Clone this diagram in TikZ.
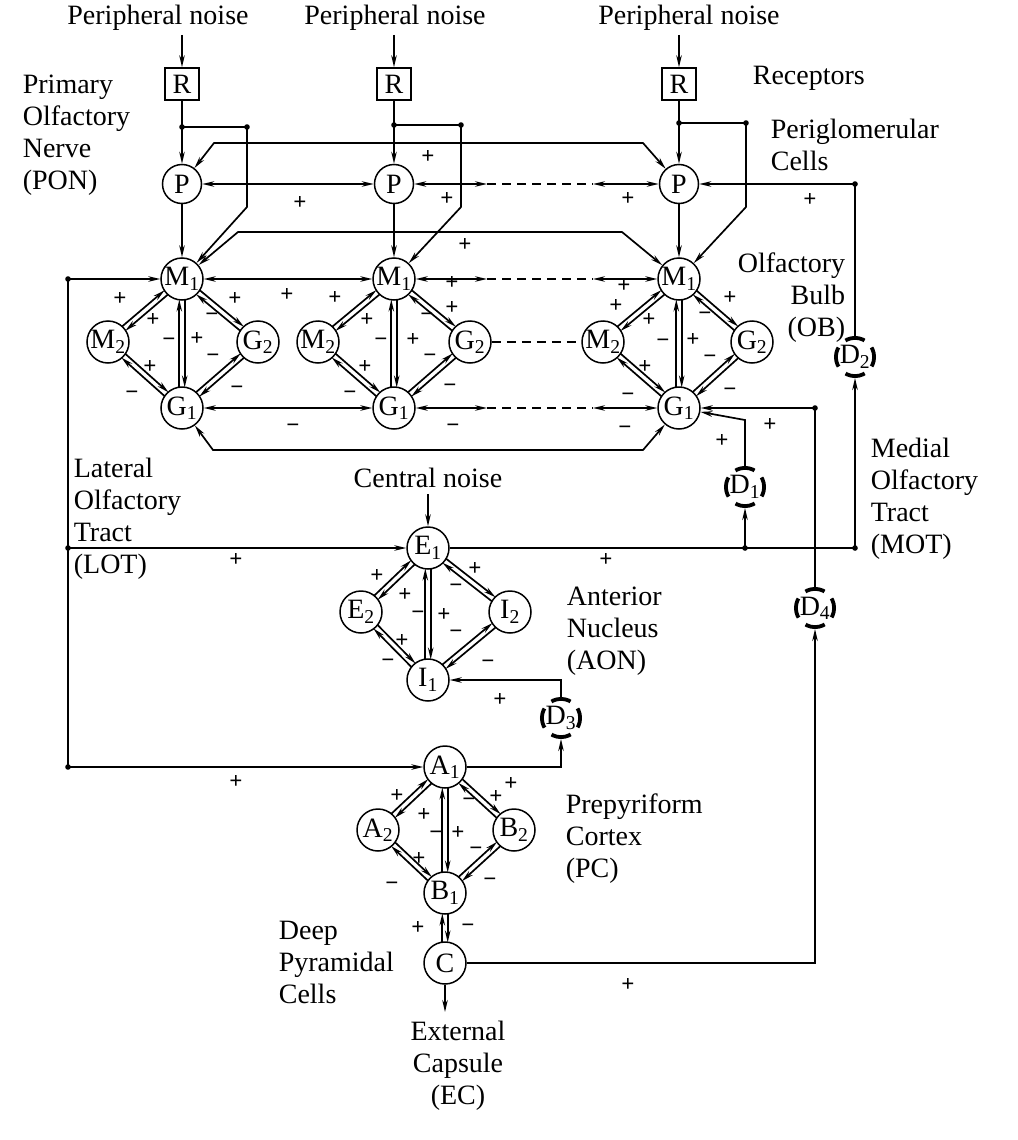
\documentclass[tikz,border=0pt]{standalone}
\usepackage{fontspec}
\setmainfont{Liberation Serif}
\usetikzlibrary{arrows.meta,calc}
\newcommand\sbs[1]{\textsubscript{#1}}
\newcommand\dbl[2]{%
 \draw[arr,shorten <=20.5pt,shorten >=20.5pt] ($(#1)!2.7pt!90:(#2)$) -- ($(#2)!2.7pt!-90:(#1)$);
 \draw[arr,shorten <=20.5pt,shorten >=20.5pt] ($(#2)!2.7pt!90:(#1)$) -- ($(#1)!2.7pt!-90:(#2)$);}
\begin{document}
\begin{tikzpicture}[x=1pt,y=-1pt,line width=1.7pt,
  every node/.style={font=\fontsize{28}{32}\selectfont},
  cell/.style={circle,draw,line width=1.5pt,minimum size=42pt,inner sep=0pt},
  pcell/.style={cell,minimum size=39pt},
  rbox/.style={rectangle,draw,line width=1.5pt,minimum width=34pt,minimum height=32pt,inner sep=0pt},
  dcell/.style={circle,draw,line width=3.8pt,minimum size=38.2pt,inner sep=0pt,dash pattern=on 20pt off 10pt,dash phase=10pt},
  sgn/.style={font=\fontsize{23}{23}\selectfont\bfseries,inner sep=0pt},
  txt/.style={inner sep=0pt},
  blk/.style={inner sep=0pt,align=left},
  arr/.style={-{Stealth[length=12pt,width=5.5pt]}},
  arrb/.style={{Stealth[length=12pt,width=5.5pt]}-{Stealth[length=12pt,width=5.5pt]}},
  dsh/.style={dash pattern=on 9pt off 6pt}]
\fill[white] (0,0) rectangle (1017,1140);
\path[use as bounding box] (0,0) rectangle (1017,1140);

% ---------- texts
\node[txt] (t1) at (158,18) {Peripheral noise};
\node[txt] (t2) at (395,18) {Peripheral noise};
\node[txt] (t3) at (689,18) {Peripheral noise};
\node[blk,anchor=north west] (tpon) at (22,74) {Primary\\Olfactory\\Nerve\\(PON)};
\node[txt,anchor=west] (trec) at (752,78) {Receptors};
\node[blk,anchor=north west] (tpg) at (770,118) {Periglomerular\\Cells};
\node[inner sep=0pt,align=right,anchor=north east] (tob) at (846,252) {Olfactory\\Bulb\\(OB)};
\node[blk,anchor=north west] (tlot) at (73,457) {Lateral\\Olfactory\\Tract\\(LOT)};
\node[txt] (tcn) at (428,478) {Central noise};
\node[blk,anchor=north west] (tmot) at (870,437) {Medial\\Olfactory\\Tract\\(MOT)};
\node[blk,anchor=north west] (taon) at (566,586) {Anterior\\Nucleus\\(AON)};
\node[blk,anchor=north west] (tpc) at (565,793) {Prepyriform\\Cortex\\(PC)};
\node[blk,anchor=north west] (tdp) at (278,920) {Deep\\Pyramidal\\Cells};
\node[inner sep=0pt,align=center,anchor=north] (tec) at (458,1020) {External\\Capsule\\(EC)};

% ---------- nodes
\node[rbox] (R1) at (182,84) {R};
\node[rbox] (R2) at (394,84) {R};
\node[rbox] (R3) at (679,84) {R};
\node[pcell] (P1) at (182,184) {P};
\node[pcell] (P2) at (394,184) {P};
\node[pcell] (P3) at (679,184) {P};

\node[cell] (M1a) at (182,279) {M\sbs{1}};
\node[cell] (M2a) at (108,342) {M\sbs{2}};
\node[cell] (G2a) at (258,342) {G\sbs{2}};
\node[cell] (G1a) at (182,408) {G\sbs{1}};

\node[cell] (M1b) at (394,279) {M\sbs{1}};
\node[cell] (M2b) at (318,342) {M\sbs{2}};
\node[cell] (G2b) at (470,342) {G\sbs{2}};
\node[cell] (G1b) at (394,408) {G\sbs{1}};

\node[cell] (M1c) at (679,279) {M\sbs{1}};
\node[cell] (M2c) at (603,342) {M\sbs{2}};
\node[cell] (G2c) at (752,342) {G\sbs{2}};
\node[cell] (G1c) at (679,408) {G\sbs{1}};

\node[dcell] (D2) at (855,357) {D\sbs{2}};
\node[dcell] (D1) at (745,487) {D\sbs{1}};
\node[dcell] (D4) at (815,608) {D\sbs{4}};
\node[dcell] (D3) at (561,718) {D\sbs{3}};

\node[cell] (E1) at (428,548) {E\sbs{1}};
\node[cell] (E2) at (361,612) {E\sbs{2}};
\node[cell] (I2) at (510,612) {I\sbs{2}};
\node[cell] (I1) at (428,680) {I\sbs{1}};

\node[cell] (A1) at (445,767) {A\sbs{1}};
\node[cell] (A2) at (378,830) {A\sbs{2}};
\node[cell] (B2) at (514,830) {B\sbs{2}};
\node[cell] (B1) at (445,893) {B\sbs{1}};
\node[cell] (C) at (445,963) {C};

% ---------- coordinates
\coordinate (na1) at (182,35);
\coordinate (na2) at (394,35);
\coordinate (na3) at (679,35);
\coordinate (ba0) at (182,127); \coordinate (ba1) at (247,127); \coordinate (ba2) at (247,207);
\coordinate (bb0) at (394,125); \coordinate (bb1) at (461,125); \coordinate (bb2) at (461,207);
\coordinate (bc0) at (679,123); \coordinate (bc1) at (746,123); \coordinate (bc2) at (746,207);
\coordinate (lpa) at (214,143); \coordinate (lpb) at (643,143);
\coordinate (lma) at (238,232); \coordinate (lmb) at (622,232);
\coordinate (lga) at (213,450); \coordinate (lgb) at (643,450);
\coordinate (pd1) at (487,184); \coordinate (pd2) at (593,184);
\coordinate (md1) at (487,279); \coordinate (md2) at (593,279);
\coordinate (gd1) at (487,408); \coordinate (gd2) at (593,408);
\coordinate (mt) at (855,184); \coordinate (mb) at (855,548);
\coordinate (l0) at (68,279); \coordinate (le) at (68,548); \coordinate (la) at (68,767);
\coordinate (d1b) at (745,548); \coordinate (d1t) at (745,420);
\coordinate (d4t) at (815,408); \coordinate (d4b) at (815,963);
\coordinate (ecT) at (445,1012);
\coordinate (cn) at (428,494);
\coordinate (d3t) at (561,680); \coordinate (d3b) at (561,767);

% ---------- input
\draw[arr] (na1) -- (R1); \draw[arr] (na2) -- (R2); \draw[arr] (na3) -- (R3);
\draw[arr] (R1) -- (P1); \draw[arr] (R2) -- (P2); \draw[arr] (R3) -- (P3);
\draw[arr] (P1) -- (M1a); \draw[arr] (P2) -- (M1b); \draw[arr] (P3) -- (M1c);
\draw[arr] (ba0) -- (ba1) -- (ba2) -- (M1a);
\draw[arr] (bb0) -- (bb1) -- (bb2) -- (M1b);
\draw[arr] (bc0) -- (bc1) -- (bc2) -- (M1c);
\foreach \p in {ba0,ba1,bb0,bb1,bc0,bc1} \fill (\p) circle[radius=2.8pt];

% ---------- long loops
\draw[arrb] (P1) -- (lpa) -- (lpb) -- (P3);
\draw[arrb] (M1a) -- (lma) -- (lmb) -- (M1c);
\draw[arrb] (G1a) -- (lga) -- (lgb) -- (G1c);

% ---------- rows
\draw[arrb] (P1) -- (P2);
\draw[arrb] (P2) -- (pd1); \draw[dsh] (pd1) -- (pd2); \draw[arrb] (pd2) -- (P3);
\draw[arrb] (M1a) -- (M1b);
\draw[arrb] (M1b) -- (md1); \draw[dsh] (md1) -- (md2); \draw[arrb] (md2) -- (M1c);
\draw[arrb] (G1a) -- (G1b);
\draw[arrb] (G1b) -- (gd1); \draw[dsh] (gd1) -- (gd2); \draw[arrb] (gd2) -- (G1c);
\draw[dsh] (G2b) -- (M2c);

% ---------- clusters
\dbl{M1a}{M2a} \dbl{M1a}{G2a} \dbl{M1a}{G1a} \dbl{M2a}{G1a} \dbl{G2a}{G1a}
\dbl{M1b}{M2b} \dbl{M1b}{G2b} \dbl{M1b}{G1b} \dbl{M2b}{G1b} \dbl{G2b}{G1b}
\dbl{M1c}{M2c} \dbl{M1c}{G2c} \dbl{M1c}{G1c} \dbl{M2c}{G1c} \dbl{G2c}{G1c}
\dbl{E1}{E2} \dbl{E1}{I2} \dbl{E1}{I1} \dbl{E2}{I1} \dbl{I2}{I1}
\dbl{A1}{A2} \dbl{A1}{B2} \dbl{A1}{B1} \dbl{A2}{B1} \dbl{B2}{B1}
\dbl{B1}{C}

% ---------- tracts and feedback
\draw[arr] (D2) -- (mt) -- (P3);
\draw[arr] (mb) -- (D2);
\draw[arr] (l0) -- (M1a);
\draw (l0) -- (la);
\draw[arr] (le) -- (E1);
\draw[arr] (la) -- (A1);
\draw (E1) -- (mb);
\draw[arr] (d1b) -- (D1);
\draw[arr] (D1) -- (d1t) -- (G1c);
\draw[arr] (D4) -- (d4t) -- (G1c);
\draw[arr] (C) -- (d4b) -- (D4);
\draw[arr] (C) -- (ecT);
\draw[arr] (cn) -- (E1);
\draw[arr] (D3) -- (d3t) -- (I1);
\draw[arr] (A1) -- (d3b) -- (D3);
\foreach \p in {mt,mb,l0,le,la,d1b,d4t} \fill (\p) circle[radius=2.8pt];

% ---------- signs
\foreach \x/\y/\s [count=\i] in {
 428/157/+, 300/203/+, 447/199/+, 628/199/+, 810/200/+, 465/245/+,
 120/299/+, 153/320/+, 169/342/−, 197/339/+, 235/299/+, 212/317/−, 213/358/−, 150/367/+, 132/395/−, 237/390/−, 287/295/+, 293/428/−,
 335/298/+, 367/320/+, 381/342/−, 413/340/+, 452/283/+, 452/308/+, 427/317/−, 430/358/−, 365/367/+, 350/395/−, 450/388/−, 453/428/−,
 624/286/+, 616/306/+, 649/320/+, 663/343/−, 693/340/+, 730/298/+, 705/316/−, 710/359/−, 645/367/+, 628/397/−, 730/392/−, 625/430/−, 722/441/+, 770/425/+,
 236/560/+, 606/560/+, 377/576/+, 405/595/+, 418/615/−, 444/615/+, 475/569/+, 456/588/−, 456/634/−, 402/641/+, 388/663/−, 488/664/−, 500/700/+,
 236/782/+, 397/796/+, 424/815/+, 436/835/−, 458/833/+, 496/797/+, 511/784/+, 469/802/−, 476/851/−, 419/859/+, 392/886/−, 490/882/−,
 418/928/+, 468/928/−, 628/985/+}
 \node[sgn] (sg\i) at (\x,\y) {\s};
\end{tikzpicture}
\end{document}
